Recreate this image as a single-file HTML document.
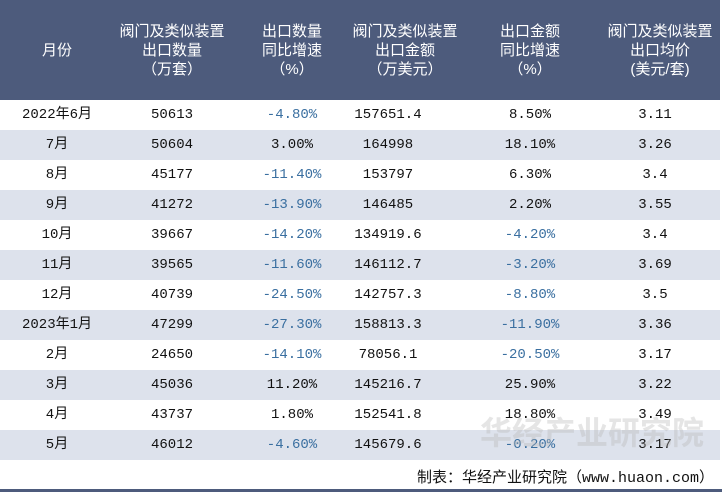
<!DOCTYPE html>
<html><head><meta charset="utf-8"><style>
body{margin:0;width:722px;height:492px;background:#fff;position:relative;overflow:hidden;font-family:"Liberation Mono","Noto Sans CJK SC",monospace;}
#hdr{position:absolute;left:0;top:0;width:720px;height:100px;background:#4d5b7c;}
.h{position:absolute;top:0;height:100px;display:flex;align-items:center;justify-content:center;text-align:center;color:#fff;font-family:"Liberation Sans","Noto Sans CJK SC",sans-serif;font-size:15px;line-height:19px;transform:translateX(-50%);width:130px;}
.row{position:absolute;left:0;width:720px;height:30px;}
.c{position:absolute;top:0;height:30px;line-height:30px;font-size:14px;color:#111;transform:translateX(-50%);white-space:nowrap;font-family:"Liberation Mono","Noto Sans CJK SC",monospace;}
.neg{color:#3a6fa0;}
#foot{position:absolute;right:8px;top:466px;font-size:15px;font-family:"Liberation Mono","Noto Sans CJK SC",monospace;color:#111;}
#bot{position:absolute;left:0;top:489px;width:722px;height:3px;background:#4d5b7c;}
#wm{position:absolute;left:480px;top:408px;font-size:32px;color:rgba(180,180,180,0.35);font-family:"Noto Sans CJK SC",sans-serif;font-weight:bold;}
</style></head><body>
<div id="hdr"></div>
<div id="rows"></div>
<div id="wm">华经产业研究院</div>
<div id="foot">制表：华经产业研究院（www.huaon.com）</div>
<div id="bot"></div>
<script>
const headers=["月份","阀门及类似装置<br>出口数量<br>（万套）","出口数量<br>同比增速<br>（%）","阀门及类似装置<br>出口金额<br>（万美元）","出口金额<br>同比增速<br>（%）","阀门及类似装置<br>出口均价<br>(美元/套)"];
const months=["2022年6月","7月","8月","9月","10月","11月","12月","2023年1月","2月","3月","4月","5月"];
const qty=["50613","50604","45177","41272","39667","39565","40739","47299","24650","45036","43737","46012"];
const qtyYoy=["-4.80%","3.00%","-11.40%","-13.90%","-14.20%","-11.60%","-24.50%","-27.30%","-14.10%","11.20%","1.80%","-4.60%"];
const amt=["157651.4","164998","153797","146485","134919.6","146112.7","142757.3","158813.3","78056.1","145216.7","152541.8","145679.6"];
const amtYoy=["8.50%","18.10%","6.30%","2.20%","-4.20%","-3.20%","-8.80%","-11.90%","-20.50%","25.90%","18.80%","-0.20%"];
const price=["3.11","3.26","3.4","3.55","3.4","3.69","3.5","3.36","3.17","3.22","3.49","3.17"];
const hx=[57,172,292,405,530,660];
const cx=[57,172,292,388,530,655];
const hdr=document.getElementById('hdr');
headers.forEach((t,i)=>{const d=document.createElement('div');d.className='h';d.style.left=hx[i]+'px';d.innerHTML=t;


hdr.appendChild(d);});
const rows=document.getElementById('rows');
months.forEach((m,r)=>{const row=document.createElement('div');row.className='row';row.style.top=(100+r*30)+'px';row.style.background=r%2?'#dde2ec':'#fff';


[m,qty[r],qtyYoy[r],amt[r],amtYoy[r],price[r]].forEach((v,i)=>{const c=document.createElement('div');c.className='c'+(v.startsWith('-')?' neg':'');c.style.left=cx[i]+'px';c.textContent=v;


row.appendChild(c);});
rows.appendChild(row);});
</script>
</body></html>
